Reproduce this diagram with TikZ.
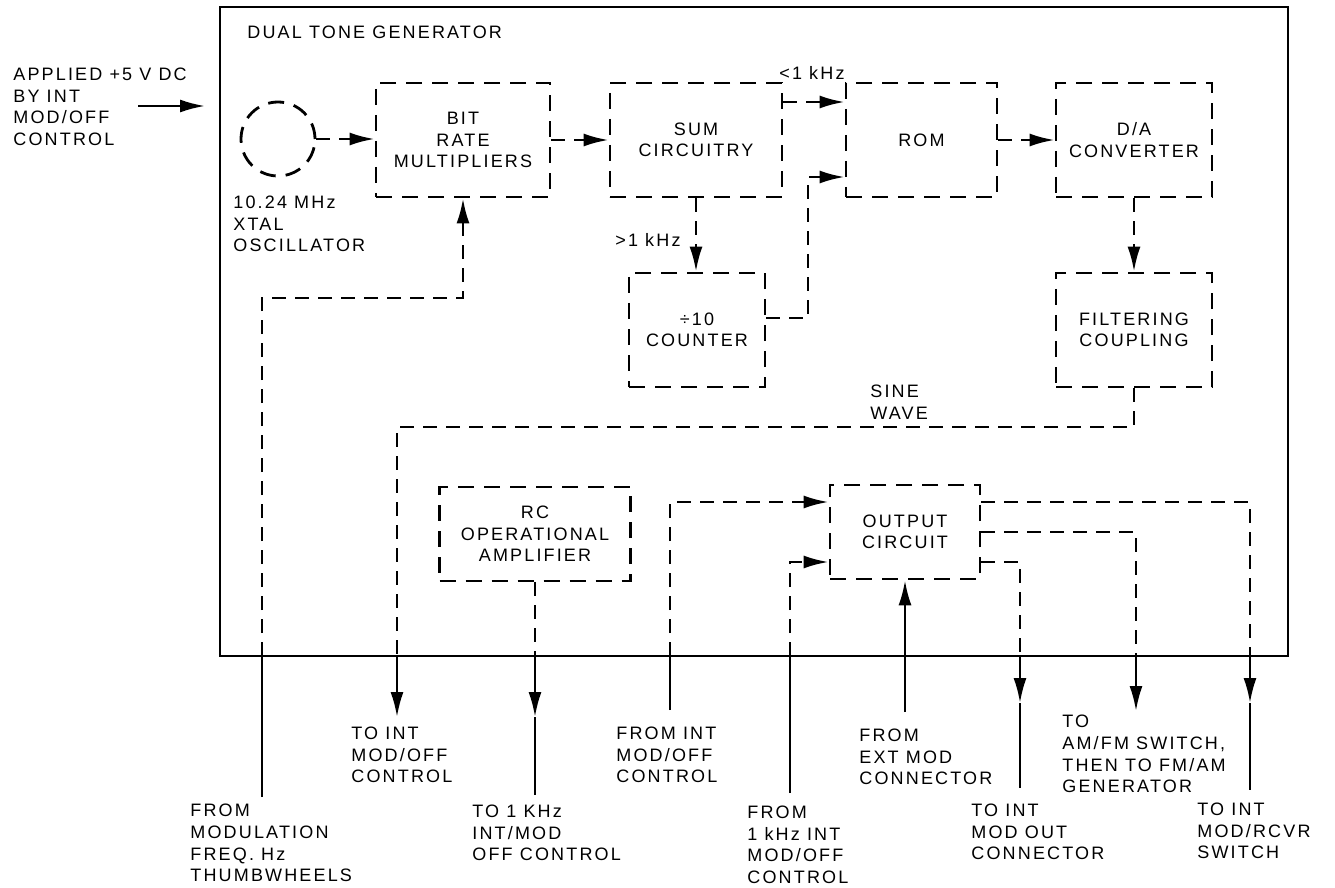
\documentclass[tikz,border=0pt]{standalone}
\usepackage{fontspec}
\setmainfont{Liberation Sans}[LetterSpace=12]
\usetikzlibrary{arrows.meta}
\begin{document}
\begin{tikzpicture}[x=0.5pt,y=-0.5pt,
  every node/.style={font=\fontsize{9}{10.8}\selectfont},
  box/.style={draw, line width=1.4pt, dash pattern=on 8pt off 5pt, align=center, inner sep=0pt},
  dconn/.style={line width=1.3pt, dash pattern=on 7pt off 4.5pt},
  sconn/.style={line width=1.2pt},
  tip/.style={-{Latex[length=12.5pt,width=6.5pt]}},
  lbl/.style={align=left, anchor=west, inner sep=0pt}]
\useasboundingbox (0,0) rectangle (1335,888);

% outer frame
\node[draw, line width=1.2pt, minimum width=534pt, minimum height=324.5pt, inner sep=0pt] (gen) at (754,331.5) {};
\node[lbl] (title) at (247,32) {DUAL TONE GENERATOR};

% blocks
\node[box, circle, minimum size=37pt] (osc) at (278,139) {};
\node[lbl] (osclbl) at (233,224) {10.24 MHz\\XTAL\\OSCILLATOR};
\node[box, minimum width=87pt, minimum height=57pt] (bit) at (463,140) {BIT\\RATE\\MULTIPLIERS};
\node[box, minimum width=86pt, minimum height=57pt] (sum) at (696,140) {SUM\\CIRCUITRY};
\node[box, minimum width=75.5pt, minimum height=57pt] (rom) at (921.5,140) {ROM};
\node[box, minimum width=78pt, minimum height=57pt] (da) at (1134,140) {D/A\\CONVERTER};
\node[box, minimum width=78pt, minimum height=57pt] (filt) at (1134,330) {FILTERING\\COUPLING};
\node[box, minimum width=68pt, minimum height=57pt] (cnt) at (697,330) {÷10\\COUNTER};
\node[box, minimum width=95.5pt, minimum height=47pt] (rc) at (535,534) {RC\\OPERATIONAL\\AMPLIFIER};
\node[box, minimum width=75pt, minimum height=47pt] (out) at (905,532) {OUTPUT\\CIRCUIT};

% inner labels
\node (lt) at (812,73) {<1 kHz};
\node (gt) at (648,240) {>1 kHz};
\node[lbl] (sine) at (870,402) {SINE\\WAVE};

% applied input
\node[lbl] (appl) at (13,107) {APPLIED +5 V DC\\BY INT\\MOD/OFF\\CONTROL};
\coordinate (a0) at (138,106);
\coordinate (a1) at (205,106);
\draw[sconn, tip] (a0) -- (a1);

% internal flow
\draw[dconn, tip] (osc.east) -- (osc.east -| bit.west);
\draw[dconn, tip] (bit.east) -- (sum.west);
\draw[dconn, tip] ([yshift=19pt]sum.east) -- ([yshift=19pt]sum.east -| rom.west);
\draw[dconn, tip] (sum.south) -- (sum.south |- cnt.north);
\coordinate (c1) at (808,177);
\draw[dconn, tip] ([yshift=6pt]cnt.east) -| (c1) -- (c1 -| rom.west);
\draw[dconn, tip] (rom.east) -- (rom.east -| da.west);
\draw[dconn, tip] (da.south) -- (filt.north);

% sine wave to INT MOD/OFF
\coordinate (s1) at (397,427);
\coordinate (b1) at (397,656);
\coordinate (e1) at (397,717);
\draw[dconn] (filt.south) |- (s1) -- (b1);
\draw[sconn, tip] (b1) -- (e1);

% thumbwheels
\coordinate (t0) at (262,797);
\coordinate (t1) at (262,656);
\coordinate (t2) at (463,298);
\draw[sconn] (t0) -- (t1);
\draw[dconn, tip] (t1) |- (t2) -- (bit.south);

% RC op amp output
\coordinate (b2) at (535,656);
\coordinate (m2) at (535,717);
\coordinate (e2) at (535,795);
\draw[dconn] (rc.south) -- (b2);
\draw[sconn, tip] (b2) -- (m2);
\draw[sconn] (m2) -- (e2);

% inputs to output circuit
\coordinate (f0) at (670,710);
\coordinate (b3) at (670,656);
\draw[sconn] (f0) -- (b3);
\draw[dconn, tip] (b3) |- ([yshift=15pt]out.west);
\coordinate (g0) at (790,793);
\coordinate (b4) at (790,656);
\draw[sconn] (g0) -- (b4);
\draw[dconn, tip] (b4) |- ([yshift=-15pt]out.west);
\coordinate (h0) at (905,712);
\draw[sconn, tip] (h0) -- (out.south);

% outputs
\coordinate (b5) at (1250,656);
\coordinate (m5) at (1250,703);
\coordinate (e5) at (1250,790);
\draw[dconn] ([yshift=15pt]out.east) -| (b5);
\draw[sconn, tip] (b5) -- (m5);
\draw[sconn] (m5) -- (e5);
\coordinate (b6) at (1136,656);
\coordinate (e6) at (1136,711);
\draw[dconn] (out.east) -| (b6);
\draw[sconn, tip] (b6) -- (e6);
\coordinate (b7) at (1020,656);
\coordinate (m7) at (1020,703);
\coordinate (e7) at (1020,788);
\draw[dconn] ([yshift=-15pt]out.east) -| (b7);
\draw[sconn, tip] (b7) -- (m7);
\draw[sconn] (m7) -- (e7);

% bottom labels
\node[lbl] (l1) at (190,843) {FROM\\MODULATION\\FREQ. Hz\\THUMBWHEELS};
\node[lbl] (l2) at (351,755) {TO INT\\MOD/OFF\\CONTROL};
\node[lbl] (l3) at (472,833) {TO 1 KHz\\INT/MOD\\OFF CONTROL};
\node[lbl] (l4) at (616,755) {FROM INT\\MOD/OFF\\CONTROL};
\node[lbl] (l5) at (747,845) {FROM\\1 kHz INT\\MOD/OFF\\CONTROL};
\node[lbl] (l6) at (859,757) {FROM\\EXT MOD\\CONNECTOR};
\node[lbl] (l7) at (971,832) {TO INT\\MOD OUT\\CONNECTOR};
\node[lbl] (l8) at (1062,754) {TO\\AM/FM SWITCH,\\THEN TO FM/AM\\GENERATOR};
\node[lbl] (l9) at (1197,831) {TO INT\\MOD/RCVR\\SWITCH};
\end{tikzpicture}
\end{document}
